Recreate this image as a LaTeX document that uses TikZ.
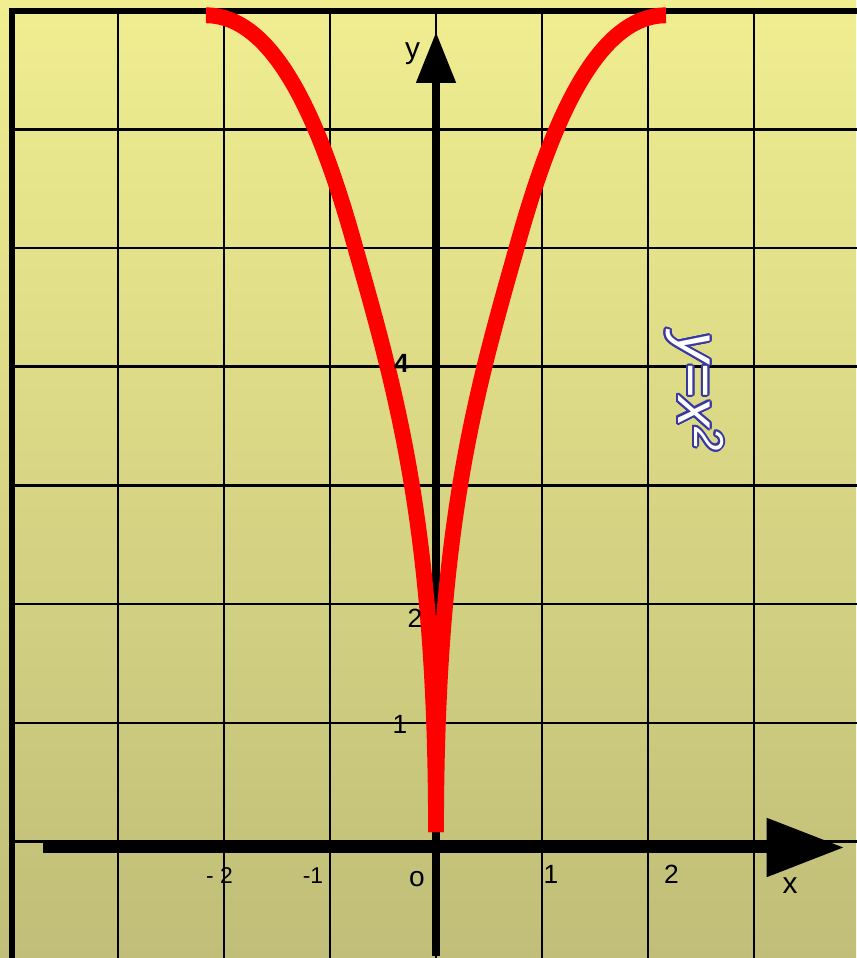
\documentclass[tikz,border=0pt]{standalone}
\usepackage{fontspec}
\setmainfont{Liberation Sans}
\usepackage{contour}
\usetikzlibrary{arrows.meta}
\definecolor{bgtop}{RGB}{240,238,144}
\definecolor{bgbottom}{RGB}{192,190,120}
\definecolor{wordblue}{RGB}{56,56,160}
\contourlength{1.1pt}

\begin{document}
\begin{tikzpicture}[x=2.12cm,y=2.374cm,
  gridline/.style={line width=1.4pt},
  curve/.style={red,line width=9pt},
  lbl/.style={inner sep=0pt,anchor=base}]
  \useasboundingbox (-4.113,-0.981) rectangle (3.962,7.089);
  \shade[top color=bgtop,bottom color=bgbottom] (-4.113,-0.981) rectangle (3.962,7.089);
  \foreach \i in {-3,...,3} \draw[gridline] (\i,-1) -- (\i,7);
  \foreach \j in {-1,...,6} \draw[gridline] (-4,\j) -- (4,\j);
  \draw[line width=3.4pt] (-4,-1) -- (-4,7) -- (4,7);
  \draw[line width=6.2pt,-{Triangle[length=44pt,width=32pt]}] (-3.708,-0.05) -- (3.849,-0.05);
  \draw[line width=4.5pt,-{Triangle[length=29pt,width=21.6pt]}] (0,-0.96) -- (0,6.82);
  \draw[curve] (0,0.08) .. controls (0,2.61) and (0.36,3.74) .. (0.76,5)
    .. controls (1.07,6) and (1.5,6.96) .. (2.17,6.96);
  \draw[curve] (0,0.08) .. controls (0,2.61) and (-0.36,3.74) .. (-0.76,5)
    .. controls (-1.07,6) and (-1.5,6.96) .. (-2.17,6.96);
  \node[lbl,font=\fontsize{17}{17}\selectfont] (ylab) at (-0.222,6.60) {y};
  \node[lbl,font=\fontsize{17}{17}\selectfont] (xlab) at (3.34,-0.44) {x};
  \node[lbl,font=\fontsize{16}{16}\selectfont] (olab) at (-0.179,-0.375) {o};
  \node[lbl,font=\fontsize{13}{13}\selectfont] (xm2) at (-2.042,-0.35) {- 2};
  \node[lbl,font=\fontsize{13}{13}\selectfont] (xm1) at (-1.16,-0.35) {-1};
  \node[lbl,font=\fontsize{15}{15}\selectfont] (xp1) at (1.085,-0.35) {1};
  \node[lbl,font=\fontsize{15}{15}\selectfont] (xp2) at (2.222,-0.35) {2};
  \node[lbl,font=\fontsize{15}{15}\selectfont\bfseries] (yp4) at (-0.325,3.955) {4};
  \node[lbl,font=\fontsize{15}{15}\selectfont] (yp2) at (-0.198,1.807) {2};
  \node[lbl,font=\fontsize{15}{15}\selectfont] (yp1) at (-0.34,0.914) {1};
  \node[rotate=-90,inner sep=0pt,font=\fontsize{34}{40}\selectfont\itshape] (eqn) at (2.43,3.787)
    {\contour{wordblue}{\textcolor{white}{y=x\textsuperscript{2}}}};
\end{tikzpicture}
\end{document}
